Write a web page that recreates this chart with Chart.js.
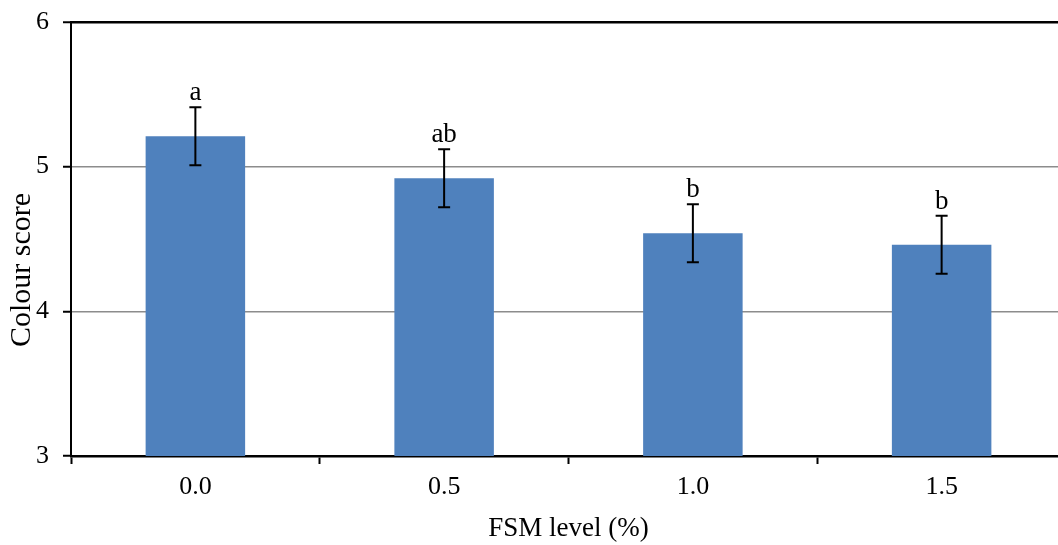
<!DOCTYPE html>
<html>
<head>
<meta charset="utf-8">
<script src="https://cdn.jsdelivr.net/npm/chart.js@4.4.1/dist/chart.umd.min.js"></script>
<style>
  html, body { margin: 0; padding: 0; background: #fff; overflow: hidden; }
  #wrap { position: relative; width: 1066px; height: 545px; }
</style>
</head>
<body>
<div id="wrap"><canvas id="colourChart"></canvas></div>
<script>
// FSM level (%) and the colour score of each treatment
const categories = ['0.0', '0.5', '1.0', '1.5'];
const colourScore = [5.21, 4.92, 4.54, 4.46];
const errorSd = [0.2, 0.2, 0.2, 0.2];
const letters = ['a', 'ab', 'b', 'b'];
const yTicks = [3, 4, 5, 6];

const serif = '"Liberation Serif", "Times New Roman", serif';
const barBlue = '#4F81BD';

// error bars with the significance letters above them
const errorBarPlugin = {
    id: 'errorBars',
    afterDatasetsDraw(chart) {
        const { ctx, scales: { y } } = chart;
        const meta = chart.getDatasetMeta(0);
        ctx.save();
        ctx.strokeStyle = '#000';
        ctx.lineWidth = 2;
        meta.data.forEach((bar, i) => {
            const cx = bar.x;
            const top = y.getPixelForValue(colourScore[i] + errorSd[i]);
            const bottom = y.getPixelForValue(colourScore[i] - errorSd[i]);
            ctx.beginPath();
            ctx.moveTo(cx, top);
            ctx.lineTo(cx, bottom);
            ctx.moveTo(cx - 6, top);
            ctx.lineTo(cx + 6, top);
            ctx.moveTo(cx - 6, bottom);
            ctx.lineTo(cx + 6, bottom);
            ctx.stroke();

            ctx.fillStyle = '#000';
            ctx.font = '27px ' + serif;
            ctx.textAlign = 'center';
            ctx.textBaseline = 'alphabetic';
            ctx.fillText(letters[i], cx, top - 7);
        });
        ctx.restore();
    }
};

// y axis title, centred on the full height
const yTitlePlugin = {
    id: 'yTitle',
    afterDraw(chart) {
        const { ctx } = chart;
        ctx.save();
        ctx.translate(22, 270);
        ctx.rotate(-Math.PI / 2);
        ctx.fillStyle = '#000';
        ctx.font = '30px ' + serif;
        ctx.textAlign = 'center';
        ctx.textBaseline = 'middle';
        ctx.fillText('Colour score', 0, 0);
        ctx.restore();
    }
};

new Chart(document.getElementById('colourChart'), {
    type: 'bar',
    data: {
        labels: categories,
        datasets: [{
            data: colourScore,
            backgroundColor: barBlue,
            borderWidth: 0,
            barPercentage: 0.4,
            categoryPercentage: 1.0
        }]
    },
    options: {
        responsive: true,
        maintainAspectRatio: false,
        animation: false,
        layout: { padding: { top: 22, left: 0, right: 0, bottom: 0 } },
        plugins: {
            legend: { display: false },
            tooltip: { enabled: false }
        },
        scales: {
            y: {
                min: yTicks[0],
                max: yTicks[yTicks.length - 1],
                afterBuildTicks: scale => {
                    scale.ticks = yTicks.map(v => ({ value: v }));
                },
                afterFit: scale => {
                    scale.width = 71;
                    scale.paddingTop = 0;
                    scale.paddingBottom = 0;
                },
                border: { color: '#000', width: 2 },
                grid: {
                    color: c => c.tick && c.tick.value === 6 ? '#000' : '#8c8c8c',
                    lineWidth: c => c.tick && c.tick.value === 6 ? 2.5 : 1.5,
                    tickColor: '#000',
                    tickLength: 8,
                    tickWidth: 2
                },
                ticks: {
                    color: '#000',
                    padding: 14,
                    font: { family: serif, size: 26 }
                }
            },
            x: {
                afterFit: scale => { scale.height = 89; },
                border: { color: '#000', width: 2.5 },
                grid: {
                    offset: true,
                    drawOnChartArea: false,
                    tickColor: '#000',
                    tickLength: 8,
                    tickWidth: 2
                },
                ticks: {
                    color: '#000',
                    padding: 8,
                    font: { family: serif, size: 26 }
                },
                title: {
                    display: true,
                    text: 'FSM level (%)',
                    color: '#000',
                    padding: { top: 0, bottom: 0 },
                    font: { family: serif, size: 27 }
                }
            }
        }
    },
    plugins: [errorBarPlugin, yTitlePlugin]
});
</script>
</body>
</html>
